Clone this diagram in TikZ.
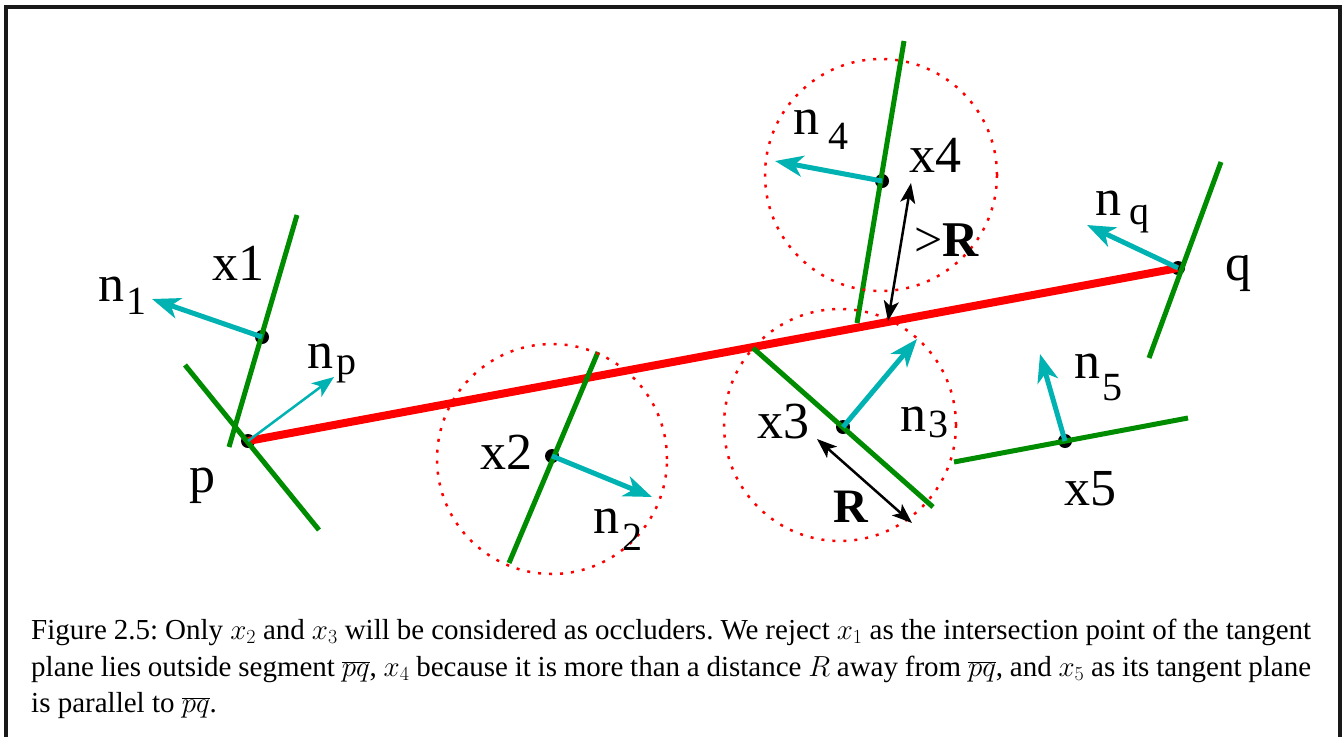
\RequirePackage{fix-cm}
\documentclass[tikz,border=0pt]{standalone}
\usepackage{fontspec}
\setmainfont{Liberation Serif}
\usetikzlibrary{arrows.meta}
\DeclareMathSizes{29}{29}{20}{15}
\definecolor{pgreen}{RGB}{0,140,0}
\definecolor{pcyan}{RGB}{0,178,178}
\definecolor{pred}{RGB}{255,0,0}
\begin{document}
\frenchspacing
\begin{tikzpicture}[x=1pt,y=-1pt,
  plane/.style={pgreen, line width=5pt},
  nrm/.style={pcyan, line width=5pt, -{Stealth[length=28pt,width=21pt,inset=8pt]}},
  thinnrm/.style={pcyan, line width=2.5pt, -{Stealth[length=22pt,width=17pt,inset=6pt]}},
  seg/.style={pred, line width=8pt},
  ball/.style={pred, line width=2.5pt, dash pattern=on 3pt off 8pt},
  dist/.style={black, line width=2.5pt, {Stealth[length=20pt,width=15pt,inset=5pt]}-{Stealth[length=20pt,width=15pt,inset=5pt]}},
  lbl/.style={inner sep=0pt, font=\fontsize{52}{56}\selectfont},
  sub/.style={inner sep=0pt, font=\fontsize{40}{44}\selectfont},
  blbl/.style={inner sep=0pt, font=\fontsize{48}{52}\selectfont\bfseries},
  rlbl/.style={inner sep=0pt, font=\fontsize{50}{54}\selectfont},
  captext/.style={inner sep=0pt, anchor=base west, font=\fontsize{29}{36}\selectfont},
  framebox/.style={black!90, line width=4pt}
]
\useasboundingbox (0,0) rectangle (1343,736);
% frame
\coordinate (fbl) at (5.5,745);
\coordinate (ftl) at (5.5,7);
\coordinate (ftr) at (1339.5,7);
\coordinate (fbr) at (1339.5,745);
\draw[framebox] (fbl) -- (ftl) -- (ftr) -- (fbr);

% points
\coordinate (p) at (248,441);
\coordinate (q) at (1178,268);
\coordinate (x1) at (262,337);
\coordinate (x2) at (552,456);
\coordinate (x3) at (843,427);
\coordinate (x4) at (882,181);
\coordinate (x5) at (1065,441);

% dots
\foreach \c in {p,q,x1,x2,x3,x4,x5} \fill[black] (\c) circle[radius=7pt];

% segment pq
\draw[seg] (p) -- (q);

% tangent planes
\coordinate (pA) at (185,365);  \coordinate (pB) at (319,530);
\coordinate (a1) at (297,215);  \coordinate (b1) at (229,447);
\coordinate (a2) at (598,352);  \coordinate (b2) at (509,563);
\coordinate (a3) at (753,348);  \coordinate (b3) at (933,507);
\coordinate (a4) at (904,41);   \coordinate (b4) at (857,323);
\coordinate (qA) at (1221,162); \coordinate (qB) at (1149,358);
\coordinate (a5) at (954,462);  \coordinate (b5) at (1188,418);
\draw[plane] (pA) -- (pB);
\draw[plane] (a1) -- (b1);
\draw[plane] (a2) -- (b2);
\draw[plane] (a3) -- (b3);
\draw[plane] (a4) -- (b4);
\draw[plane] (qA) -- (qB);
\draw[plane] (a5) -- (b5);

% balls of radius R
\coordinate (c2) at (552,459);
\coordinate (c3) at (840,425);
\coordinate (c4) at (881,175);
\draw[ball] (c2) circle[radius=115pt];
\draw[ball] (c3) circle[radius=116pt];
\draw[ball] (c4) circle[radius=116pt];

% normals
\coordinate (t1) at (152,299);
\coordinate (tp) at (334,377);
\coordinate (t2) at (652,497);
\coordinate (t3) at (917,339);
\coordinate (t4) at (775,161);
\coordinate (tq) at (1087,225);
\coordinate (t5) at (1040,354);
\draw[nrm] (x1) -- (t1);
\draw[thinnrm] (p) -- (tp);
\draw[nrm] (x2) -- (t2);
\draw[nrm] (x3) -- (t3);
\draw[nrm] (x4) -- (t4);
\draw[nrm] (q) -- (tq);
\draw[nrm] (x5) -- (t5);

% distances
\coordinate (r3a) at (817,439);
\coordinate (r3b) at (912,523);
\coordinate (r4a) at (911,183);
\coordinate (r4b) at (888,321);
\draw[dist] (r3a) -- (r3b);
\draw[dist] (r4a) -- (r4b);

% labels
\node[lbl] (lp) at (202,486) {p};
\node[lbl] (lq) at (1238,274) {q};
\node[lbl] (lx1) at (238,263) {x1};
\node[lbl] (lx2) at (506,452) {x2};
\node[lbl] (lx3) at (783,422) {x3};
\node[lbl] (lx4) at (935,155) {x4};
\node[lbl] (lx5) at (1090,489) {x5};
\node[lbl] (ln1) at (111,289) {n};  \node[sub] (sn1) at (136,301) {1};
\node[lbl] (lnp) at (320,356) {n};  \node[sub] (snp) at (346,369) {p};
\node[lbl] (ln2) at (606,521) {n};  \node[sub] (sn2) at (632,537) {2};
\node[lbl] (ln3) at (913,419) {n};  \node[sub] (sn3) at (938,424) {3};
\node[lbl] (ln4) at (806,122) {n};  \node[sub] (sn4) at (838,136) {4};
\node[lbl] (lnq) at (1108,203) {n}; \node[sub] (snq) at (1139,219) {q};
\node[lbl] (ln5) at (1087,366) {n}; \node[sub] (sn5) at (1112,388) {5};
\node[blbl] (lR) at (851,507) {R};
\node[rlbl] (lgR) at (947,240) {>\textbf{R}};

% caption
\node[captext] (cap1) at (31,639) {\hbox to 1280pt{Figure 2.5: Only $x_2$ and $x_3$ will be considered as occluders. We reject $x_1$ as the intersection point of the tangent}};
\node[captext] (cap2) at (31,676) {\hbox to 1280pt{plane lies outside segment $\overline{pq}$, $x_4$ because it is more than a distance $R$ away from $\overline{pq}$, and $x_5$ as its tangent plane}};
\node[captext] (cap3) at (31,712) {is parallel to $\overline{pq}$.};
\end{tikzpicture}
\end{document}
